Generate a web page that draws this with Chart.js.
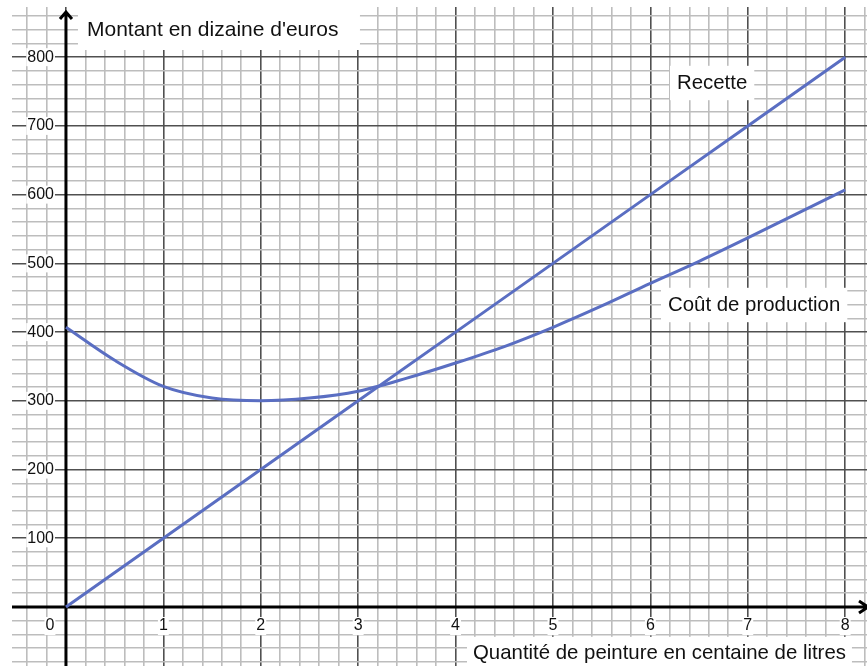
<!DOCTYPE html>
<html>
<head>
<meta charset="utf-8">
<script src="https://cdn.jsdelivr.net/npm/chart.js@4.4.1/dist/chart.umd.min.js"></script>
<style>
  html, body { margin: 0; padding: 0; background: #fff; }
  #wrap { width: 867px; height: 666px; position: relative; }
</style>
</head>
<body>
<div id="wrap"><canvas id="chart"></canvas></div>
<script>
// Data
const recetteX = [0, 1, 2, 3, 4, 5, 6, 7, 8];
const recetteY = [0, 100, 200, 300, 400, 500, 600, 700, 800];
const coutX = [0, 0.5, 1, 1.5, 2, 2.5, 3, 3.5, 4, 4.5, 5, 5.5, 6, 6.5, 7, 7.5, 8];
const coutY = [407, 359, 321, 304, 300, 304, 314, 333, 355, 379, 407, 438, 471, 503, 537, 572, 607];
const xTickLabels = ['0', '1', '2', '3', '4', '5', '6', '7', '8'];
const yTickLabels = ['100', '200', '300', '400', '500', '600', '700', '800'];

const FONT = '"Liberation Sans", Arial, sans-serif';
const LINE = '#5a6ec2';

function gridTicks(step) {
  return (scale) => {
    const ticks = [];
    for (let k = Math.ceil(scale.min / step); k * step <= scale.max; k++) {
      ticks.push({ value: Math.round(k * step * 1000) / 1000 });
    }
    scale.ticks = ticks;
  };
}

function gridStyle(major) {
  return {
    drawTicks: false,
    color: (ctx) => {
      const v = ctx.tick.value;
      return Math.abs(v / major - Math.round(v / major)) < 1e-6 ? '#505050' : '#bdbdbd';
    },
    lineWidth: 1.6,
  };
}

function whiteText(ctx, text, x, y, align, pad) {
  ctx.textAlign = align;
  ctx.textBaseline = 'middle';
  const w = ctx.measureText(text).width;
  const h = parseFloat(ctx.font.split('px')[0]);
  let left = x;
  if (align === 'center') left = x - w / 2;
  if (align === 'right') left = x - w;
  ctx.fillStyle = '#fff';
  ctx.fillRect(left - pad, y - h / 2 - pad, w + pad * 2, h + pad * 2);
  ctx.fillStyle = '#111';
  ctx.fillText(text, x, y);
}

// black axes over the grid, under the curves
const axes = {
  id: 'axes',
  beforeDatasetsDraw(chart) {
    const { ctx, chartArea, scales: { x, y } } = chart;
    const x0 = x.getPixelForValue(0);
    const y0 = y.getPixelForValue(0);
    ctx.save();
    ctx.strokeStyle = '#000';
    ctx.lineWidth = 3;
    ctx.beginPath();
    ctx.moveTo(x0, chartArea.bottom);
    ctx.lineTo(x0, 12);
    ctx.moveTo(x0 - 6, 19);
    ctx.lineTo(x0, 12);
    ctx.lineTo(x0 + 6, 19);
    ctx.moveTo(chartArea.left, y0);
    ctx.lineTo(chartArea.right, y0);
    ctx.moveTo(x.right - 8, y0 - 6);
    ctx.lineTo(x.right + 1, y0);
    ctx.lineTo(x.right - 8, y0 + 6);
    ctx.stroke();
    ctx.restore();
  },
};

const annotations = {
  id: 'annotations',
  afterDraw(chart) {
    const { ctx, scales: { x, y } } = chart;
    const x0 = x.getPixelForValue(0);
    const y0 = y.getPixelForValue(0);
    ctx.save();

    // tick labels
    ctx.font = `16px ${FONT}`;
    yTickLabels.forEach((t) => {
      whiteText(ctx, t, x0 - 12, y.getPixelForValue(+t), 'right', 1);
    });
    xTickLabels.forEach((t, i) => {
      const px = i === 0 ? x0 - 16 : x.getPixelForValue(+t);
      whiteText(ctx, t, px, y0 + 19, 'center', 1);
    });

    // titles
    ctx.font = `21px ${FONT}`;
    ctx.fillStyle = '#fff';
    ctx.fillRect(x0 + 12, 0, 282, 50);
    ctx.fillStyle = '#111';
    ctx.textAlign = 'left';
    ctx.textBaseline = 'middle';
    ctx.fillText("Montant en dizaine d'euros", x0 + 21, 30);

    ctx.font = `20.4px ${FONT}`;
    whiteText(ctx, 'Quantité de peinture en centaine de litres', 473, 653, 'left', 6);
    whiteText(ctx, 'Recette', 677, 83, 'left', 7);
    whiteText(ctx, 'Coût de production', 668, 305, 'left', 7);
    ctx.restore();
  },
};

new Chart(document.getElementById('chart'), {
  type: 'line',
  data: {
    datasets: [
      {
        label: 'Recette',
        data: recetteX.map((v, i) => ({ x: v, y: recetteY[i] })),
        borderColor: LINE,
        borderWidth: 3,
        pointRadius: 0,
      },
      {
        label: 'Coût de production',
        data: coutX.map((v, i) => ({ x: v, y: coutY[i] })),
        borderColor: LINE,
        borderWidth: 3,
        pointRadius: 0,
        cubicInterpolationMode: 'monotone',
      },
    ],
  },
  options: {
    responsive: true,
    maintainAspectRatio: false,
    animation: false,
    layout: { padding: { left: 12, top: 7, right: 0, bottom: 0 } },
    plugins: { legend: { display: false }, tooltip: { enabled: false } },
    scales: {
      x: {
        type: 'linear',
        min: -0.554,
        max: 8.224,
        afterBuildTicks: gridTicks(0.2),
        ticks: { display: false },
        border: { display: false },
        grid: gridStyle(1),
      },
      y: {
        type: 'linear',
        min: -85.8,
        max: 873,
        afterBuildTicks: gridTicks(20),
        ticks: { display: false },
        border: { display: false },
        grid: gridStyle(100),
      },
    },
  },
  plugins: [axes, annotations],
});
</script>
</body>
</html>
